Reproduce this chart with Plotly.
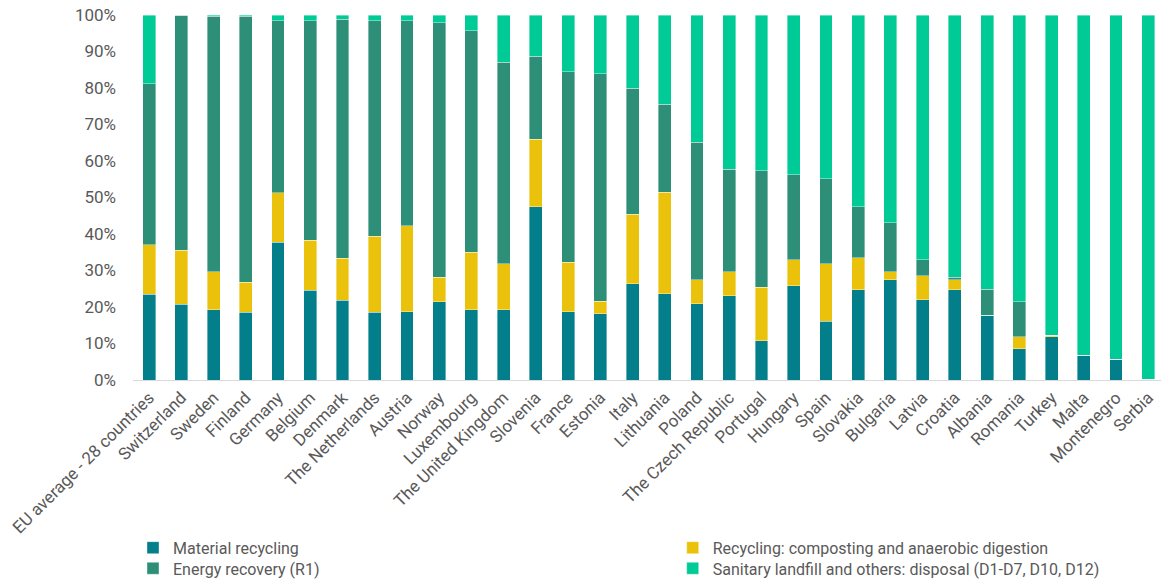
import plotly.graph_objects as go

countries = ["EU average - 28 countries", "Switzerland", "Sweden", "Finland", "Germany", "Belgium",
             "Denmark", "The Netherlands", "Austria", "Norway", "Luxembourg", "The United Kingdom",
             "Slovenia", "France", "Estonia", "Italy", "Lithuania", "Poland", "The Czech Republic",
             "Portugal", "Hungary", "Spain", "Slovakia", "Bulgaria", "Latvia", "Croatia", "Albania",
             "Romania", "Turkey", "Malta", "Montenegro", "Serbia"]

material = [23.5, 20.8, 19.2, 18.6, 37.7, 24.6, 21.9, 18.6, 18.7, 21.4, 19.3, 19.3, 47.4, 18.7, 18.2,
            26.4, 23.6, 20.9, 23.1, 10.7, 25.8, 16.1, 24.7, 27.5, 22.0, 24.7, 17.8, 8.5, 11.8, 6.8, 5.7, 0.2]
composting = [13.6, 14.8, 10.4, 8.2, 13.6, 13.7, 11.5, 20.8, 23.5, 6.7, 15.7, 12.5, 18.6, 13.6, 3.4,
              19.0, 27.8, 6.6, 6.5, 14.7, 7.1, 15.7, 8.8, 2.1, 6.6, 2.8, 0.0, 3.3, 0.5, 0.0, 0.0, 0.0]
energy = [44.1, 64.3, 70.0, 72.8, 47.1, 60.1, 65.5, 59.0, 56.2, 69.8, 60.7, 55.3, 22.7, 52.1, 62.3,
          34.6, 24.2, 37.7, 28.2, 31.9, 23.4, 23.4, 14.0, 13.5, 4.3, 0.6, 7.0, 9.6, 0.0, 0.0, 0.0, 0.0]
landfill = [18.8, 0.1, 0.4, 0.4, 1.6, 1.6, 1.1, 1.6, 1.6, 2.1, 4.3, 12.9, 11.3, 15.6, 16.1,
            20.0, 24.4, 34.8, 42.2, 42.7, 43.7, 44.8, 52.5, 56.9, 67.1, 71.9, 75.2, 78.6, 87.7, 93.2, 94.3, 99.8]

series_names = ["Material recycling", "Recycling: composting and anaerobic digestion",
                "Energy recovery (R1)", "Sanitary landfill and others: disposal (D1-D7, D10, D12)"]
colors = ["#037F8C", "#EAC20C", "#2E8F78", "#00CB97"]
legend_ids = ["legend", "legend2", "legend3", "legend4"]

fig = go.Figure()
for name, vals, col, lg in zip(series_names, [material, composting, energy, landfill], colors, legend_ids):
    fig.add_trace(go.Bar(
        x=countries, y=vals, name=name, legend=lg,
        marker=dict(color=col, line=dict(color="rgba(255,255,255,0.55)", width=0.7)),
    ))

font_family = "Roboto, 'Noto Sans', Arial, sans-serif"
legend_common = dict(
    orientation="v", yanchor="top", xanchor="left",
    font=dict(size=16, color="#595959", family=font_family),
    traceorder="normal", itemwidth=30, tracegroupgap=0,
    bgcolor="rgba(0,0,0,0)",
)
row1_y = -0.413
row2_y = -0.4695
fig.update_layout(
    barmode="stack",
    bargap=0.6,
    width=1161, height=583,
    margin=dict(l=133, r=0, t=15, b=203, autoexpand=False),
    plot_bgcolor="white", paper_bgcolor="white",
    font=dict(family=font_family, color="#595959"),
    showlegend=True,
    legend=dict(x=0.0, y=row1_y, **legend_common),
    legend2=dict(x=0.525, y=row1_y, **legend_common),
    legend3=dict(x=0.0, y=row2_y, **legend_common),
    legend4=dict(x=0.525, y=row2_y, **legend_common),
)
fig.update_xaxes(
    type="category", range=[-0.5, 31.395],
    tickangle=-45, tickfont=dict(size=17, color="#595959"),
    showline=True, linecolor="#D9D9D9", linewidth=1.3,
    showgrid=False, ticks="", zeroline=False, automargin=False,
)
fig.update_yaxes(
    range=[0, 100], dtick=10, ticksuffix="%",
    tickfont=dict(size=17, color="#595959"),
    showgrid=False, zeroline=False, showline=False, ticks="",
    ticklabelstandoff=16, automargin=False,
)

fig.write_html("out.html")
